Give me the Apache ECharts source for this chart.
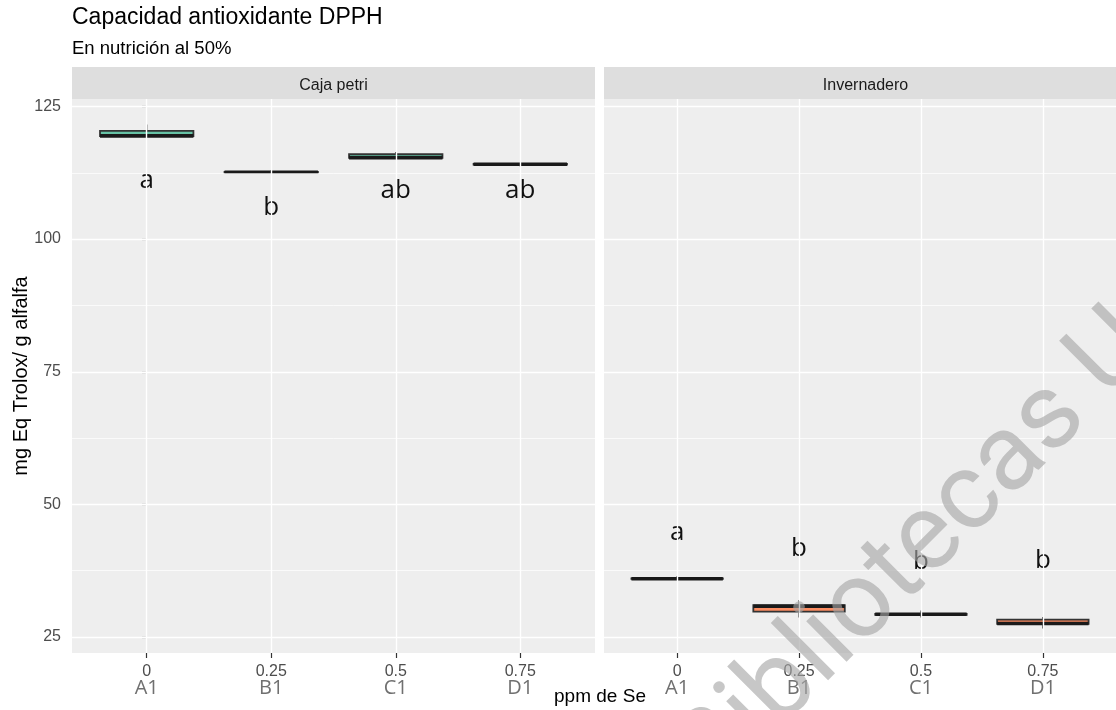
<!DOCTYPE html>
<html>
<head>
<meta charset="utf-8">
<script src="https://cdn.jsdelivr.net/npm/echarts@6/dist/echarts.min.js"></script>
<style>html,body{margin:0;padding:0;background:#fff}#c{width:1116px;height:710px}</style>
</head>
<body>
<div id="c"></div>
<script>
// ---- data ----
const doseLabels = ['0', '0.25', '0.5', '0.75'];
const groupLabels = ['A1', 'B1', 'C1', 'D1'];
const panels = ['Caja petri', 'Invernadero'];
const yTicks = [25, 50, 75, 100, 125];
const yMinorTicks = [37.5, 62.5, 87.5, 112.5];
// [min, Q1, median, Q3, max]
const petriBox = [
  [119.4, 119.4, 119.45, 120.4, 121.6],
  [112.5, 112.55, 112.6, 112.65, 113.0],
  [115.3, 115.3, 115.35, 116.0, 116.4],
  [113.7, 114.05, 114.1, 114.15, 114.15]
];
const invernaderoBox = [
  [35.9, 35.95, 36.0, 36.05, 36.5],
  [28.7, 29.8, 30.8, 31.0, 32.0],
  [28.7, 29.2, 29.3, 29.35, 30.0],
  [26.6, 27.5, 27.55, 28.3, 28.8]
];
const petriLetters = ['a', 'b', 'ab', 'ab'];
const petriLetterY = [111.1, 106.0, 109.2, 109.2];
const invLetters = ['a', 'b', 'b', 'b'];
const invLetterY = [44.7, 41.7, 39.3, 39.5];

const fills = ['#66C2A5', '#FC8D62'];
const chart = echarts.init(document.getElementById('c'));

const GL = [72, 604], GT = 99, GW = 523, GH = 554;
const yMin = 22.0, yMax = 126.4;

function boxSeries(idx, boxes) {
  return {
    type: 'custom', xAxisIndex: idx, yAxisIndex: idx, z: 3,
    data: boxes.map((b, i) => [i].concat(b)),
    renderItem(params, api) {
      const x = api.value(0);
      const c = k => api.coord([x, api.value(k)]);
      const mn = c(1), q1 = c(2), md = c(3), q3 = c(4), mx = c(5);
      const half = api.size([0.75, 0])[0] / 2;
      const cx = mn[0];
      const line = { stroke: '#333', lineWidth: 1.3 };
      return {
        type: 'group', children: [
          { type: 'line', shape: { x1: cx, y1: q3[1], x2: cx, y2: mx[1] }, style: line },
          { type: 'line', shape: { x1: cx, y1: q1[1], x2: cx, y2: mn[1] }, style: line },
          { type: 'rect', shape: { x: cx - half, y: q3[1], width: half * 2, height: q1[1] - q3[1] },
            style: { fill: fills[idx], stroke: '#333', lineWidth: 1.8 } },
          { type: 'line', shape: { x1: cx - half, y1: md[1], x2: cx + half, y2: md[1] },
            style: { stroke: '#1a1a1a', lineWidth: 3.6 } }
        ]
      };
    }
  };
}
function letterSeries(idx, letters, ys) {
  return {
    type: 'custom', xAxisIndex: idx, yAxisIndex: idx, z: 4,
    data: letters.map((l, i) => [i, ys[i]]),
    renderItem(params, api) {
      const p = api.coord([api.value(0), api.value(1)]);
      return { type: 'text', x: p[0], y: p[1],
        style: { text: letters[params.dataIndex], font: '26px "Open Sans"', fill: '#111', align: 'center', verticalAlign: 'middle' } };
    }
  };
}
function gridSeries(idx) {
  const major = { color: '#fff', width: 1.4, type: 'solid' };
  const minor = { color: '#fff', width: 0.7, type: 'solid' };
  return {
    type: 'line', xAxisIndex: idx, yAxisIndex: idx, data: [], z: 1, silent: true,
    markLine: {
      silent: true, symbol: ['none', 'none'], label: { show: false }, animation: false,
      data: yMinorTicks.map(v => ({ yAxis: v, lineStyle: minor }))
        .concat(yTicks.map(v => ({ yAxis: v, lineStyle: major })))
        .concat(doseLabels.map((d, i) => ({ xAxis: i, lineStyle: major })))
    }
  };
}

const xAxes = [0, 1].map(i => ({
  type: 'value', gridIndex: i, min: -0.6, max: 3.6,
  axisLine: { show: false }, splitLine: { show: false },
  axisTick: { show: true, customValues: [0, 1, 2, 3], length: 5, lineStyle: { color: '#333', width: 1.2 } },
  axisLabel: {
    customValues: [0, 1, 2, 3], margin: 11,
    formatter: v => '{a|' + doseLabels[v] + '}\n{b|' + groupLabels[v] + '}',
    rich: {
      a: { fontSize: 16, lineHeight: 16, color: '#4d4d4d', fontFamily: 'Liberation Sans' },
      b: { fontSize: 20, lineHeight: 17, color: '#707070', fontFamily: 'Open Sans' }
    }
  }
}));
const yAxes = [0, 1].map(i => ({
  type: 'value', gridIndex: i, min: yMin, max: yMax,
  axisLine: { show: false }, splitLine: { show: false },
  axisTick: { show: i === 0, customValues: yTicks, length: 5, lineStyle: { color: '#333', width: 1.2 } },
  axisLabel: { show: i === 0, customValues: yTicks, margin: 11, color: '#4d4d4d', fontSize: 16, fontFamily: 'Liberation Sans' }
}));

const graphics = [
  { type: 'text', x: 72, y: 17.5, style: { text: 'Capacidad antioxidante DPPH', font: '23px "Liberation Sans"', fill: '#000', verticalAlign: 'middle' } },
  { type: 'text', x: 72, y: 49, style: { text: 'En nutrición al 50%', font: '18.5px "Liberation Sans"', fill: '#000', verticalAlign: 'middle' } },
  { type: 'rect', shape: { x: GL[0], y: 67, width: GW, height: GT - 67 }, style: { fill: '#DEDEDE' }, z: 0 },
  { type: 'rect', shape: { x: GL[1], y: 67, width: GW, height: GT - 67 }, style: { fill: '#DEDEDE' }, z: 0 },
  { type: 'text', x: GL[0] + GW / 2, y: 86, style: { text: panels[0], font: '16px "Liberation Sans"', fill: '#1a1a1a', align: 'center', verticalAlign: 'middle' } },
  { type: 'text', x: GL[1] + GW / 2, y: 86, style: { text: panels[1], font: '16px "Liberation Sans"', fill: '#1a1a1a', align: 'center', verticalAlign: 'middle' } },
  { type: 'text', x: 21, y: 376, rotation: Math.PI / 2, style: { text: 'mg Eq Trolox/ g alfalfa', font: '20px "Liberation Sans"', fill: '#000', align: 'center', verticalAlign: 'middle' } },
  { type: 'text', x: 600, y: 697, style: { text: 'ppm de Se', font: '19px "Liberation Sans"', fill: '#000', align: 'center', verticalAlign: 'middle' } },
  { type: 'text', x: 694, y: 776, rotation: 0.785, z: 100, style: { text: 'Bibliotecas U', font: '108px Roboto', fill: 'rgba(165,165,165,0.62)', align: 'left', verticalAlign: 'middle' } }
];

chart.setOption({
  animation: false,
  backgroundColor: '#fff',
  grid: GL.map(l => ({ left: l, top: GT, width: GW, height: GH, show: true, backgroundColor: '#EEEEEE', borderWidth: 0 })),
  xAxis: xAxes,
  yAxis: yAxes,
  graphic: graphics,
  series: [
    gridSeries(0), gridSeries(1),
    boxSeries(0, petriBox), boxSeries(1, invernaderoBox),
    letterSeries(0, petriLetters, petriLetterY), letterSeries(1, invLetters, invLetterY)
  ]
});
</script>
</body>
</html>
